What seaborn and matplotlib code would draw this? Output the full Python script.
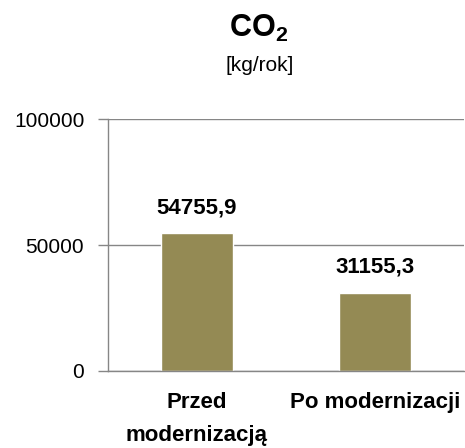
import matplotlib
matplotlib.use('Agg')
import matplotlib.pyplot as plt
import seaborn as sns
import pandas as pd
from matplotlib.ticker import FixedLocator

# Chart data
categories = ['Przed\nmodernizacją', 'Po modernizacji']
values = [54755.9, 31155.3]
value_labels = ['54755,9', '31155,3']
y_ticks = [0, 50000, 100000]

sns.set_style('white')
plt.rcParams['font.family'] = ['Liberation Sans', 'DejaVu Sans']
plt.rcParams['mathtext.fontset'] = 'custom'
plt.rcParams['mathtext.rm'] = 'Liberation Sans'
plt.rcParams['mathtext.bf'] = 'Liberation Sans:bold'
plt.rcParams['text.color'] = 'black'
plt.rcParams['xtick.color'] = 'black'
plt.rcParams['ytick.color'] = 'black'

grey = '#868686'
bar_color = '#948A54'

df = pd.DataFrame({'kategoria': categories, 'co2': values})

fig = plt.figure(figsize=(4.65, 4.48), dpi=100)
ax = fig.add_axes([0.232, 0.172, 0.766, 0.562])

sns.barplot(data=df, x='kategoria', y='co2', color=bar_color, width=0.4,
            saturation=1, ax=ax)

# value labels above bars
for i, (v, lab) in enumerate(zip(values, value_labels)):
    ax.text(i, v + 7800, lab, ha='center', va='baseline', fontsize=16,
            fontweight='bold', color='black')

ax.set_xlim(-0.5, 1.5)
ax.set_ylim(0, 100000)
ax.set_yticks(y_ticks)
ax.set_yticklabels([str(t) for t in y_ticks], fontsize=15)
ax.yaxis.grid(True, color=grey, linewidth=1)
ax.set_axisbelow(True)

ax.set_xticks(range(len(categories)))
ax.set_xticklabels(categories, fontsize=16, fontweight='bold', linespacing=1.75)
ax.tick_params(axis='x', which='major', length=0, pad=15)
ax.xaxis.set_minor_locator(FixedLocator([-0.5, 0.5, 1.5]))
ax.tick_params(axis='x', which='minor', length=7, width=1, color=grey, direction='out')
ax.tick_params(axis='y', length=7, width=1, color=grey, labelcolor='black',
               direction='out', pad=10, left=True)

for side in ['top', 'right']:
    ax.spines[side].set_visible(False)
for side in ['left', 'bottom']:
    ax.spines[side].set_color(grey)
    ax.spines[side].set_linewidth(1)

ax.set_xlabel('')
ax.set_ylabel('')

# title
fig.text(0.557, 0.917, r'$\mathbf{CO_2}$', ha='center', va='baseline', fontsize=22)
fig.text(0.559, 0.875, '[kg/rok]', ha='center', va='top', fontsize=15)

fig.savefig('out.png', dpi=100)
